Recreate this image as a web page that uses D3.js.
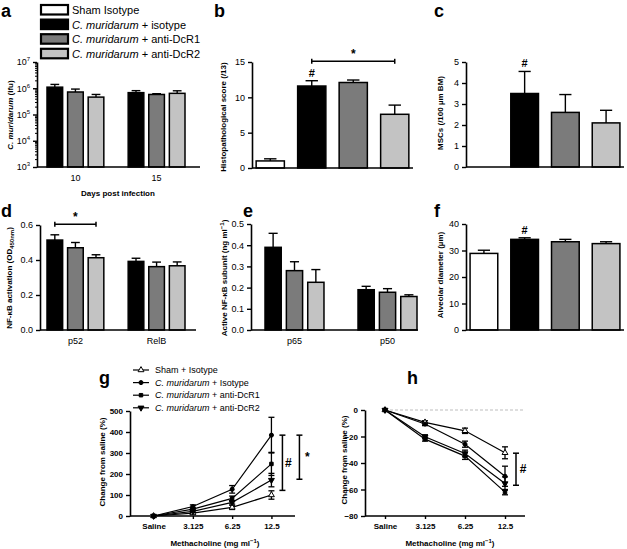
<!DOCTYPE html>
<html><head><meta charset="utf-8">
<script src="https://cdn.jsdelivr.net/npm/d3@7/dist/d3.min.js"></script>
<style>
body{margin:0;background:#fff}
svg{font-family:"Liberation Sans",Arial,Helvetica,sans-serif}
</style>
</head><body>
<svg id="chart" width="627" height="549"></svg>
<script>
// ---------- DATA ----------
const groupNames = ["Sham Isotype", "C. muridarum + isotype", "C. muridarum + anti-DcR1", "C. muridarum + anti-DcR2"];
const groupColors = ["#ffffff", "#000000", "#7b7b7b", "#c3c3c3"];

// a: C. muridarum burden (ifu), log scale
const aDays = ["10", "15"];
const aIsotype = [1.1e6, 6.8e5];
const aIsotypeSem = [3.0e5, 1.3e5];
const aDcR1 = [7.2e5, 5.8e5];
const aDcR1Sem = [2.1e5, 0.4e5];
const aDcR2 = [4.6e5, 6.4e5];
const aDcR2Sem = [1.2e5, 1.6e5];
const aTicks = [1e3, 1e4, 1e5, 1e6, 1e7];

// b: histopathological score
const bScore = [1.0, 11.6, 12.1, 7.6];
const bScoreSem = [0.3, 0.75, 0.35, 1.3];
const bTicks = [0, 5, 10, 15];

// c: MSCs
const cMSC = [0, 3.5, 2.6, 2.1];
const cMSCSem = [0, 1.05, 0.85, 0.6];
const cTicks = [0, 1, 2, 3, 4, 5];

// d: NF-kB activation
const dSubunits = ["p52", "RelB"];
const dIsotype = [0.514, 0.392];
const dIsotypeSem = [0.03, 0.018];
const dDcR1 = [0.47, 0.362];
const dDcR1Sem = [0.03, 0.026];
const dDcR2 = [0.413, 0.367];
const dDcR2Sem = [0.017, 0.022];
const dTicks = [0, 0.2, 0.4, 0.6];

// e: active NF-kB subunit
const eSubunits = ["p65", "p50"];
const eIsotype = [0.39, 0.19];
const eIsotypeSem = [0.066, 0.016];
const eDcR1 = [0.28, 0.178];
const eDcR1Sem = [0.042, 0.017];
const eDcR2 = [0.225, 0.158];
const eDcR2Sem = [0.06, 0.008];
const eTicks = [0, 0.1, 0.2, 0.3, 0.4, 0.5];

// f: alveolar diameter
const fDiam = [28.9, 34.2, 33.3, 32.6];
const fDiamSem = [1.2, 0.6, 0.9, 0.7];
const fTicks = [0, 10, 20, 30, 40];

// g/h: methacholine response
const doses = ["Saline", "3.125", "6.25", "12.5"];
const lineNames = ["Sham + Isotype", "C. muridarum + Isotype", "C. muridarum + anti-DcR1", "C. muridarum + anti-DcR2"];
const gSham = [0, 14, 41, 100];
const gShamSem = [0, 5, 10, 20];
const gIsotype = [0, 45, 127, 385];
const gIsotypeSem = [0, 8, 18, 85];
const gDcR1 = [0, 33, 84, 248];
const gDcR1Sem = [0, 6, 11, 55];
const gDcR2 = [0, 22, 65, 171];
const gDcR2Sem = [0, 5, 8, 32];
const gTicks = [0, 100, 200, 300, 400, 500];

const hSham = [0, -9.3, -15.7, -32.3];
const hShamSem = [0, 1.2, 2, 4.5];
const hIsotype = [0, -10.6, -25.8, -50];
const hIsotypeSem = [0, 1.2, 2.3, 7.6];
const hDcR1 = [0, -22, -34.8, -62];
const hDcR1Sem = [0, 1.5, 2.5, 2];
const hDcR2 = [0, -20.2, -32.8, -55.5];
const hDcR2Sem = [0, 1.5, 2.5, 5];
const hTicks = [-80, -60, -40, -20, 0];

// ---------- DRAWING ----------
const svg = d3.select("#chart");
const FONT_TICK = 9;
const FONT_TITLE = 8;

function styleAxis(g, size, bold) {
  g.select(".domain").attr("stroke", "#000").attr("stroke-width", 1.6);
  g.selectAll(".tick line").attr("stroke", "#000").attr("stroke-width", 1.4);
  g.selectAll(".tick text").attr("fill", "#000").attr("font-size", size)
    .attr("font-weight", bold ? "bold" : "normal")
    .attr("font-family", "'Liberation Sans', Arial, sans-serif");
  g.attr("font-family", null).attr("font-size", null);
}

function panelLetter(t, x, y) {
  svg.append("text").attr("x", x).attr("y", y).attr("font-size", 18).attr("font-weight", "bold").text(t);
}

function yTitle(x, y, build) {
  const t = svg.append("text")
    .attr("transform", `translate(${x},${y}) rotate(-90)`)
    .attr("text-anchor", "middle").attr("dy", "0.35em")
    .attr("font-size", FONT_TITLE).attr("font-weight", "bold");
  build(t);
  return t;
}

function italicCm(t) {
  t.append("tspan").attr("font-style", "italic").text("C. muridarum");
}

function errUp(g, x, yTop, yMean, half) {
  g.append("line").attr("x1", x).attr("x2", x).attr("y1", yMean).attr("y2", yTop).attr("stroke", "#000").attr("stroke-width", 1.4);
  g.append("line").attr("x1", x - half).attr("x2", x + half).attr("y1", yTop).attr("y2", yTop).attr("stroke", "#000").attr("stroke-width", 1.4);
}

// Simple 4-bar panel (b, c, f)
function simpleBars(opt) {
  const g = svg.append("g");
  const x = d3.scaleBand().domain(d3.range(4)).range(opt.xr).paddingInner(0.32).paddingOuter(0.1);
  const y = d3.scaleLinear().domain([0, d3.max(opt.ticks)]).range(opt.yr);
  const bw = x.bandwidth();
  opt.vals.forEach((v, i) => {
    if (v <= 0) return;
    const sem = opt.sems[i];
    errUp(g, x(i) + bw / 2, y(v + sem), y(v), bw * 0.22);
    g.append("rect").attr("x", x(i)).attr("y", y(v)).attr("width", bw).attr("height", y(0) - y(v))
      .attr("fill", groupColors[i]).attr("stroke", "#000").attr("stroke-width", 1.5);
  });
  const ya = g.append("g").attr("transform", `translate(${opt.xr[0]},0)`)
    .call(d3.axisLeft(y).tickValues(opt.ticks).tickSize(4).tickSizeOuter(0).tickPadding(3).tickFormat(opt.fmt || d3.format("d")));
  styleAxis(ya, FONT_TICK, false);
  g.append("line").attr("x1", opt.xr[0]).attr("x2", opt.xr[1]).attr("y1", opt.yr[0]).attr("y2", opt.yr[0])
    .attr("stroke", "#000").attr("stroke-width", 1.6);
  return { x, y, g, bw };
}

// Grouped bar panel (a, d, e) with 3 infected series
function groupedBars(opt) {
  const g = svg.append("g");
  const x0 = d3.scaleBand().domain(opt.cats).range(opt.bandX).paddingInner(opt.pi).paddingOuter(0);
  const x1 = d3.scaleBand().domain([0, 1, 2]).range([0, x0.bandwidth()]).paddingInner(0.24);
  const y = opt.y;
  const bw = x1.bandwidth();
  opt.series.forEach((s, si) => {
    opt.cats.forEach((c, ci) => {
      const v = s[ci], sem = opt.sems[si][ci];
      const xx = x0(c) + x1(si);
      errUp(g, xx + bw / 2, y(v + sem), y(v), bw * 0.28);
      g.append("rect").attr("x", xx).attr("y", y(v)).attr("width", bw).attr("height", opt.yr[0] - y(v))
        .attr("fill", groupColors[si + 1]).attr("stroke", "#000").attr("stroke-width", 1.5);
    });
  });
  const ya = g.append("g").attr("class", "yaxis").attr("transform", `translate(${opt.axisX[0]},0)`)
    .call(opt.yAxis);
  styleAxis(ya, FONT_TICK, false);
  const xa = g.append("g").attr("transform", `translate(0,${opt.yr[0]})`)
    .call(d3.axisBottom(x0).tickSize(0).tickPadding(8).tickSizeOuter(0));
  xa.select(".domain").remove();
  styleAxis(xa, FONT_TICK, false);
  g.append("line").attr("x1", opt.axisX[0]).attr("x2", opt.axisX[1]).attr("y1", opt.yr[0]).attr("y2", opt.yr[0])
    .attr("stroke", "#000").attr("stroke-width", 1.6);
  return { x0, x1, y, g, bw, ya };
}

// ----- Panel a -----
panelLetter("a", 1, 17);
groupNames.forEach((n, i) => {
  const yy = 5 + i * 14.6;
  svg.append("rect").attr("x", 41).attr("y", yy).attr("width", 27).attr("height", 9.5)
    .attr("fill", groupColors[i]).attr("stroke", "#000").attr("stroke-width", 2.2);
  const t = svg.append("text").attr("x", 72).attr("y", yy + 9).attr("font-size", 11);
  if (i === 0) t.text(n);
  else { italicCm(t); t.append("tspan").text(n.replace("C. muridarum", "")); }
});
const aY = d3.scaleLog().domain([1e3, 1e7]).range([167, 62]);
const aMinor = [];
for (let e = 3; e < 7; e++) for (let m = 2; m < 10; m++) aMinor.push(m * Math.pow(10, e));
const aPanel = groupedBars({
  cats: aDays, bandX: [47, 185], pi: 0.3, axisX: [37, 200], yr: [167, 62], y: aY,
  series: [aIsotype, aDcR1, aDcR2], sems: [aIsotypeSem, aDcR1Sem, aDcR2Sem],
  yAxis: d3.axisLeft(aY).tickValues(aTicks).tickSize(4).tickSizeOuter(0).tickPadding(3).tickFormat(() => "10")
});
aPanel.ya.selectAll(".tick text").each(function(d) {
  d3.select(this).append("tspan").attr("dy", -4).attr("font-size", 6).text(Math.round(Math.log10(d)));
});
const aMin = aPanel.g.append("g").attr("transform", "translate(37,0)")
  .call(d3.axisLeft(aY).tickValues(aMinor).tickSize(2).tickSizeOuter(0).tickFormat(""));
aMin.select(".domain").remove();
aMin.selectAll(".tick line").attr("stroke", "#000").attr("stroke-width", 1);
yTitle(10, 115, t => { italicCm(t); t.append("tspan").text(" (ifu)"); });
svg.append("text").attr("x", 118).attr("y", 196).attr("text-anchor", "middle")
  .attr("font-size", FONT_TITLE).attr("font-weight", "bold").text("Days post infection");

// ----- Panel b -----
panelLetter("b", 214, 17);
const bP = simpleBars({ xr: [252, 413], yr: [168, 62], ticks: bTicks, vals: bScore, sems: bScoreSem });
yTitle(223, 117, t => t.text("Histopathological score (/13)"));
{
  const xa = bP.x(1) + bP.bw / 2, xb = bP.x(3) + bP.bw / 2, yy = bP.y(15.1);
  svg.append("line").attr("x1", xa).attr("x2", xb).attr("y1", yy).attr("y2", yy).attr("stroke", "#000").attr("stroke-width", 1.5);
  [xa, xb].forEach(xx => svg.append("line").attr("x1", xx).attr("x2", xx).attr("y1", yy - 2.5).attr("y2", yy + 2.5).attr("stroke", "#000").attr("stroke-width", 1.5));
  svg.append("text").attr("x", (xa + xb) / 2).attr("y", yy - 3).attr("text-anchor", "middle").attr("font-size", 12).attr("font-weight", "bold").text("*");
  svg.append("text").attr("x", xa).attr("y", bP.y(bScore[1] + bScoreSem[1]) - 4).attr("text-anchor", "middle").attr("font-size", 11).attr("font-weight", "bold").text("#");
}

// ----- Panel c -----
panelLetter("c", 434, 17);
const cP = simpleBars({ xr: [466, 624], yr: [167, 62], ticks: cTicks, vals: cMSC, sems: cMSCSem });
yTitle(440, 113, t => t.text("MSCs (/100 µm BM)"));
svg.append("text").attr("x", cP.x(1) + cP.bw / 2).attr("y", cP.y(cMSC[1] + cMSCSem[1]) - 4).attr("text-anchor", "middle").attr("font-size", 11).attr("font-weight", "bold").text("#");

// ----- Panel d -----
panelLetter("d", 1, 217);
const dY = d3.scaleLinear().domain([0, 0.6]).range([330, 225]);
const dP = groupedBars({
  cats: dSubunits, bandX: [47, 185], pi: 0.3, axisX: [40, 196], yr: [330, 225], y: dY,
  series: [dIsotype, dDcR1, dDcR2], sems: [dIsotypeSem, dDcR1Sem, dDcR2Sem],
  yAxis: d3.axisLeft(dY).tickValues(dTicks).tickSize(4).tickSizeOuter(0).tickPadding(3).tickFormat(d3.format(".1f"))
});
yTitle(9, 278, t => {
  t.append("tspan").text("NF-κB activation (OD");
  t.append("tspan").attr("font-size", 6).attr("dy", 2).text("450nm");
  t.append("tspan").attr("dy", -2).text(")");
});
{
  const xa = dP.x0("p52") + dP.x1(0) + dP.bw / 2, xb = dP.x0("p52") + dP.x1(2) + dP.bw / 2, yy = dY(0.605);
  svg.append("line").attr("x1", xa).attr("x2", xb).attr("y1", yy).attr("y2", yy).attr("stroke", "#000").attr("stroke-width", 1.5);
  [xa, xb].forEach(xx => svg.append("line").attr("x1", xx).attr("x2", xx).attr("y1", yy - 2.5).attr("y2", yy + 2.5).attr("stroke", "#000").attr("stroke-width", 1.5));
  svg.append("text").attr("x", (xa + xb) / 2).attr("y", yy - 3).attr("text-anchor", "middle").attr("font-size", 12).attr("font-weight", "bold").text("*");
}

// ----- Panel e -----
panelLetter("e", 243, 217);
const eY = d3.scaleLinear().domain([0, 0.5]).range([330, 224]);
groupedBars({
  cats: eSubunits, bandX: [265, 417], pi: 0.366, axisX: [251, 418], yr: [330, 224], y: eY,
  series: [eIsotype, eDcR1, eDcR2], sems: [eIsotypeSem, eDcR1Sem, eDcR2Sem],
  yAxis: d3.axisLeft(eY).tickValues(eTicks).tickSize(4).tickSizeOuter(0).tickPadding(3).tickFormat(d3.format(".1f"))
});
yTitle(224, 278, t => {
  t.append("tspan").text("Active NF-κB subunit (ng ml");
  t.append("tspan").attr("font-size", 6).attr("dy", -3).text("−1");
  t.append("tspan").attr("dy", 3).text(")");
});

// ----- Panel f -----
panelLetter("f", 434, 217);
const fP = simpleBars({ xr: [466, 624], yr: [330, 224], ticks: fTicks, vals: fDiam, sems: fDiamSem });
yTitle(440, 275, t => t.text("Alveolar diameter (µm)"));
svg.append("text").attr("x", fP.x(1) + fP.bw / 2).attr("y", fP.y(fDiam[1] + fDiamSem[1]) - 4).attr("text-anchor", "middle").attr("font-size", 11).attr("font-weight", "bold").text("#");

// ----- Line panels -----
const symTypes = [d3.symbolTriangle, d3.symbolCircle, d3.symbolSquare, d3.symbolTriangle];
const symRot = [0, 0, 0, 180];
const symFill = ["#fff", "#000", "#000", "#000"];
const symSize = [15, 13, 12, 15];

function drawMarker(g, i, x, y) {
  g.append("path").attr("d", d3.symbol().type(symTypes[i]).size(symSize[i])())
    .attr("transform", `translate(${x},${y}) rotate(${symRot[i]})`)
    .attr("fill", symFill[i]).attr("stroke", "#000").attr("stroke-width", 1);
}

function linePanel(opt) {
  const g = svg.append("g");
  const x = d3.scalePoint().domain(doses).range(opt.xr).padding(opt.pad);
  const y = d3.scaleLinear().domain(opt.domain).range(opt.yr);
  if (opt.zeroLine) {
    g.append("line").attr("x1", x(doses[0])).attr("x2", opt.xr[1]).attr("y1", y(0)).attr("y2", y(0))
      .attr("stroke", "#bdbdbd").attr("stroke-width", 1).attr("stroke-dasharray", "3,2");
  }
  const line = d3.line().x((d, i) => x(doses[i])).y(d => y(d));
  opt.series.forEach((s, si) => {
    s.forEach((v, i) => {
      const sem = opt.sems[si][i];
      if (sem <= 0) return;
      const xx = x(doses[i]);
      g.append("line").attr("x1", xx).attr("x2", xx).attr("y1", y(v - sem)).attr("y2", y(v + sem)).attr("stroke", "#000").attr("stroke-width", 1.3);
      [v - sem, v + sem].forEach(e => g.append("line").attr("x1", xx - 3).attr("x2", xx + 3).attr("y1", y(e)).attr("y2", y(e)).attr("stroke", "#000").attr("stroke-width", 1.3));
    });
    g.append("path").datum(s).attr("d", line).attr("fill", "none").attr("stroke", "#000").attr("stroke-width", 1.2);
  });
  opt.series.forEach((s, si) => s.forEach((v, i) => drawMarker(g, si, x(doses[i]), y(v))));
  const ya = g.append("g").attr("transform", `translate(${opt.xr[0]},0)`)
    .call(d3.axisLeft(y).tickValues(opt.ticks).tickSize(4).tickSizeOuter(0).tickPadding(3));
  styleAxis(ya, 8, true);
  const xa = g.append("g").attr("transform", `translate(0,${opt.axisY})`)
    .call(d3.axisBottom(x).tickSize(3).tickSizeOuter(0).tickPadding(4));
  styleAxis(xa, 8, true);
  xa.select(".domain").attr("d", `M${opt.xr[0]},0H${opt.xr[1]}`);
  return { x, y, g };
}

function vBracket(xx, y1, y2, label, tx) {
  svg.append("line").attr("x1", xx).attr("x2", xx).attr("y1", y1).attr("y2", y2).attr("stroke", "#000").attr("stroke-width", 1.5);
  [y1, y2].forEach(yy => svg.append("line").attr("x1", xx - 3).attr("x2", xx + 3).attr("y1", yy).attr("y2", yy).attr("stroke", "#000").attr("stroke-width", 1.5));
  svg.append("text").attr("x", tx).attr("y", (y1 + y2) / 2 + 4).attr("text-anchor", "middle").attr("font-size", 12).attr("font-weight", "bold").text(label);
}

// ----- Panel g -----
panelLetter("g", 99, 384);
lineNames.forEach((n, i) => {
  const yy = 370 + i * 12.6;
  svg.append("line").attr("x1", 133).attr("x2", 149).attr("y1", yy).attr("y2", yy).attr("stroke", "#000").attr("stroke-width", 1.2);
  drawMarker(svg, i, 141, yy);
  const t = svg.append("text").attr("x", 155).attr("y", yy + 3.2).attr("font-size", 9);
  if (i === 0) t.text(n);
  else { italicCm(t); t.append("tspan").text(n.replace("C. muridarum", "")); }
});
const gP = linePanel({ xr: [130, 295], pad: 0.6, domain: [0, 500], yr: [516, 411], ticks: gTicks, axisY: 516,
  series: [gSham, gIsotype, gDcR1, gDcR2], sems: [gShamSem, gIsotypeSem, gDcR1Sem, gDcR2Sem] });
{
  const x12 = gP.x("12.5");
  vBracket(x12 + 11, gP.y(gIsotype[3]), gP.y(gSham[3] + gShamSem[3] + 2), "#", x12 + 17);
  vBracket(x12 + 28, gP.y(gIsotype[3]), gP.y(gDcR2[3] + 4), "*", x12 + 36);
}
yTitle(102, 462, t => t.text("Change from saline (%)"));
svg.append("text").attr("x", 215).attr("y", 546).attr("text-anchor", "middle").attr("font-size", FONT_TITLE).attr("font-weight", "bold")
  .call(t => { t.append("tspan").text("Methacholine (mg ml"); t.append("tspan").attr("font-size", 6).attr("dy", -3).text("−1"); t.append("tspan").attr("dy", 3).text(")"); });

// ----- Panel h -----
panelLetter("h", 407, 384);
const hP = linePanel({ xr: [365, 525], pad: 0.5, domain: [-80, 0], yr: [516, 410], ticks: hTicks, axisY: 516, zeroLine: true,
  series: [hSham, hIsotype, hDcR1, hDcR2], sems: [hShamSem, hIsotypeSem, hDcR1Sem, hDcR2Sem] });
{
  const x12 = hP.x("12.5");
  vBracket(x12 + 11, hP.y(hSham[3] - 0.3), hP.y(hDcR2[3] - 1.3), "#", x12 + 18);
}
yTitle(344, 460, t => t.text("Change from saline (%)"));
svg.append("text").attr("x", 450).attr("y", 546).attr("text-anchor", "middle").attr("font-size", FONT_TITLE).attr("font-weight", "bold")
  .call(t => { t.append("tspan").text("Methacholine (mg ml"); t.append("tspan").attr("font-size", 6).attr("dy", -3).text("−1"); t.append("tspan").attr("dy", 3).text(")"); });
</script>
</body></html>
